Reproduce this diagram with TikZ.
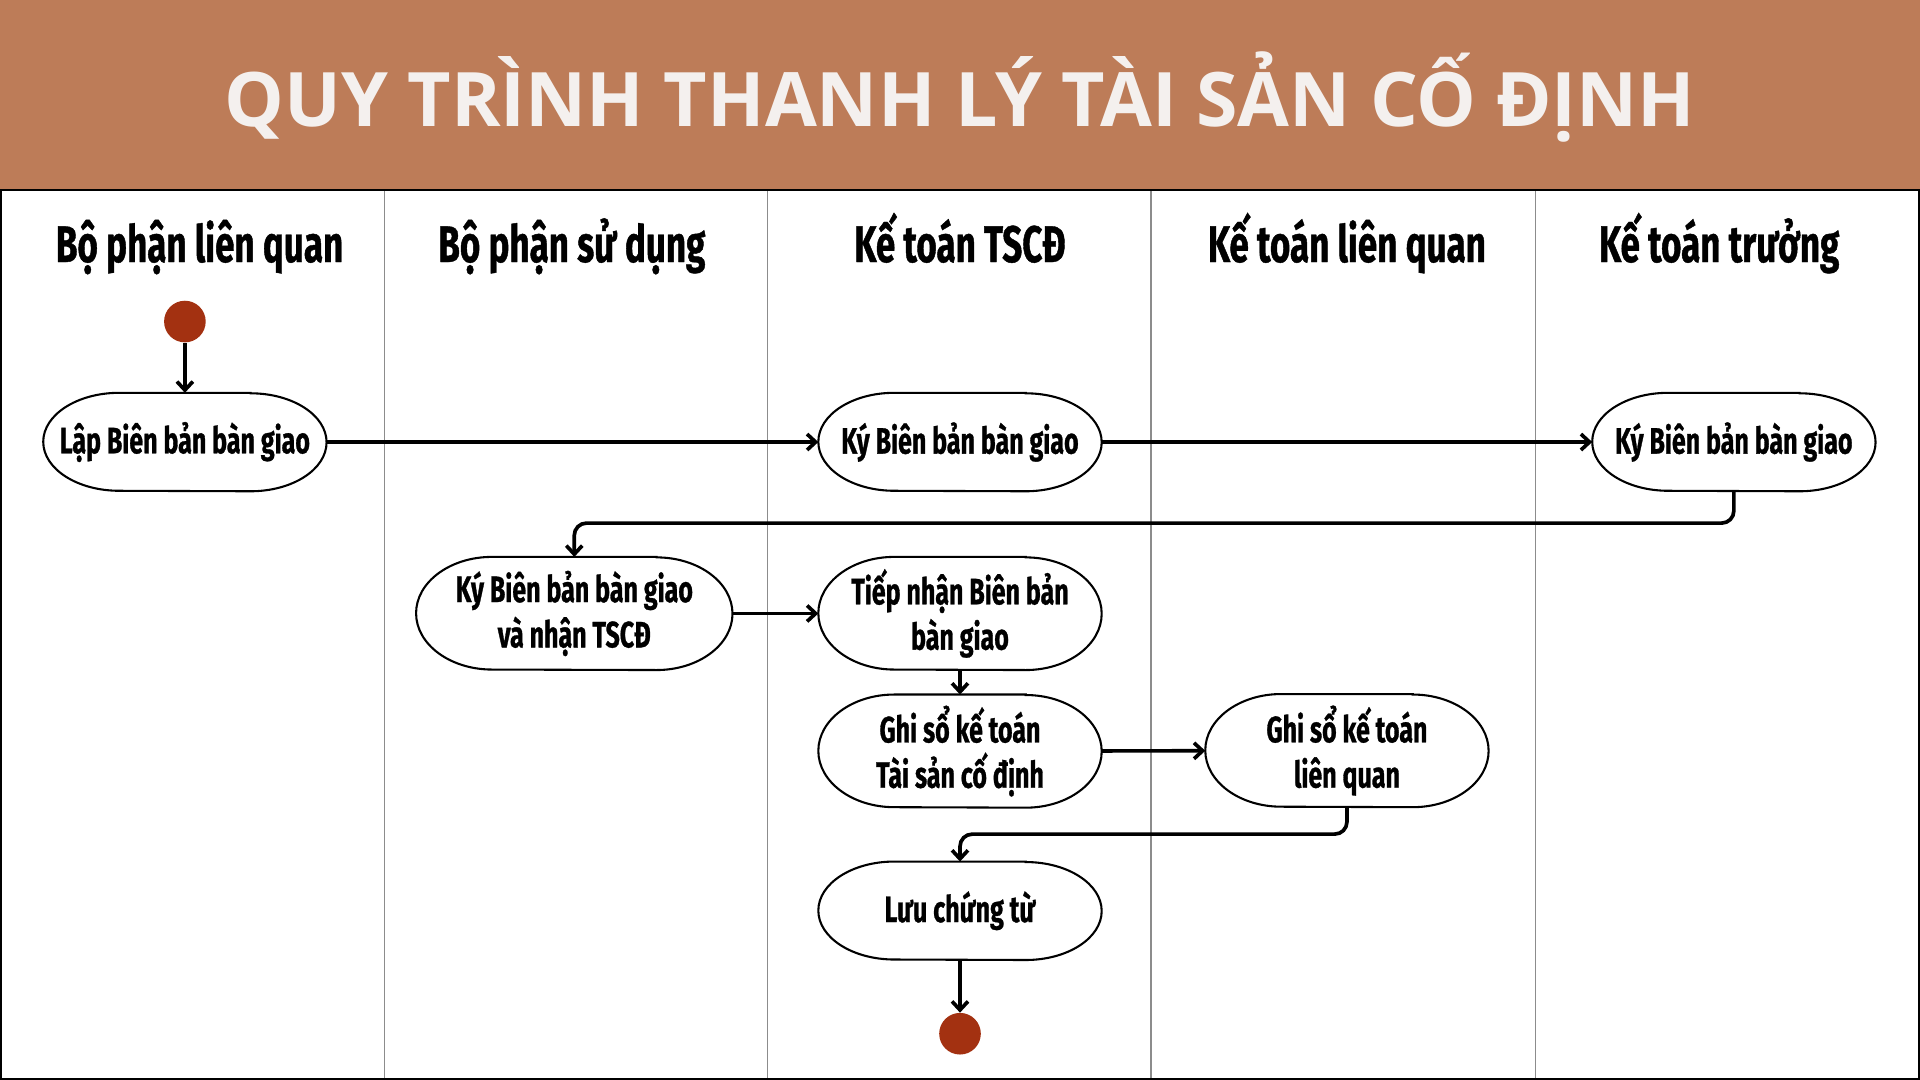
\documentclass[tikz,border=0pt]{standalone}
\usepackage{fontspec}
\usetikzlibrary{positioning, arrows.meta}
\newfontfamily\titlefont{Open Sans}
\newfontfamily\lanefont[FakeStretch=0.68, FakeBold=0.8]{Fira Sans}
\definecolor{barbrown}{HTML}{BD7C58}
\definecolor{titlewhite}{HTML}{F4F0EE}
\definecolor{dotred}{HTML}{A33111}
\definecolor{lanegray}{HTML}{8C8C8C}
\tikzset{
  act/.style={fill=white, minimum width=231pt, minimum height=80pt,
    inner sep=0pt, align=center,
    font=\lanefont\bfseries\fontsize{30}{37}\selectfont},
  tall/.style={minimum height=92pt},
  outline/.style={line width=1.7pt},
  dot/.style={circle, fill=dotred, minimum size=34pt, inner sep=0pt},
  flow/.style={-{Straight Barb[length=7pt,width=13pt]}, line width=3pt},
  lanehead/.style={anchor=base, font=\lanefont\bfseries\fontsize{42}{46}\selectfont},
  laneline/.style={draw=lanegray, line width=1pt}
}

\begin{document}
\begin{tikzpicture}[x=1pt, y=-1pt]
\useasboundingbox (0,0) rectangle (1568,882);
\fill[barbrown] (0,0) rectangle (1568,155);
\node[anchor=base, text=titlewhite,
    font=\titlefont\bfseries\fontsize{61.4}{70}\selectfont]
    (title) at (784,103) {QUY TRÌNH THANH LÝ TÀI SẢN CỐ ĐỊNH};

% lanes
\foreach \x in {314,627,940,1254}
    \draw[laneline] (\x,155) -- (\x,882);
\draw[line width=1.5pt] (0.75,155) rectangle (1567.25,881.25);
\foreach \x/\t [count=\i] in {163/Bộ phận liên quan, 467/Bộ phận sử dụng,
    784/Kế toán TSCĐ, 1100/Kế toán liên quan, 1404/Kế toán trưởng}
    \node[lanehead] (h\i) at (\x,214) {\t};

% activities
\node[act] (lap) at (151,361) {Lập Biên bản bàn giao};
\node[dot, above=41pt of lap] (start) {};
\node[act] (kytscd) at (784,361) {Ký Biên bản bàn giao};
\node[act] (kytruong) at (1416,361) {Ký Biên bản bàn giao};
\node[act, tall, minimum width=258pt] (kysudung) at (469,501)
    {Ký Biên bản bàn giao\\và nhận TSCĐ};
\node[act, tall] (tiepnhan) at (784,501) {Tiếp nhận Biên bản\\bàn giao};
\node[act, tall, below=20pt of tiepnhan] (ghisotscd)
    {Ghi sổ kế toán\\Tài sản cố định};
\node[act, tall] (ghisolq) at (1100,613) {Ghi sổ kế toán\\liên quan};
\node[act, below=44pt of ghisotscd] (luu) {Lưu chứng từ};
\node[dot, below=43pt of luu] (stop) {};

% oval borders
\foreach \n/\r in {lap/40, kytscd/40, kytruong/40, kysudung/46, tiepnhan/46,
    ghisotscd/46, ghisolq/46, luu/40}
    \draw[outline] ([xshift=-62pt]\n.north east) -- ([xshift=62pt]\n.north west)
        arc[start angle=90, end angle=270, x radius=62pt, y radius=\r pt]
        -- ([xshift=-62pt]\n.south east)
        arc[start angle=-90, end angle=90, x radius=62pt, y radius=\r pt] -- cycle;

\draw[flow] (start) -- (lap);
\draw[flow] (lap) -- (kytscd);
\draw[flow] (kytscd) -- (kytruong);
\draw[flow, rounded corners=10pt] (kytruong.south) -- ++(0,26) -| (kysudung.north);
\draw[flow] (kysudung) -- (tiepnhan);
\draw[flow] (tiepnhan) -- (ghisotscd);
\draw[flow] (ghisotscd) -- (ghisolq);
\draw[flow, rounded corners=10pt] (ghisolq.south) -- ++(0,22) -| (luu.north);
\draw[flow] (luu) -- (stop);
\end{tikzpicture}
\end{document}
